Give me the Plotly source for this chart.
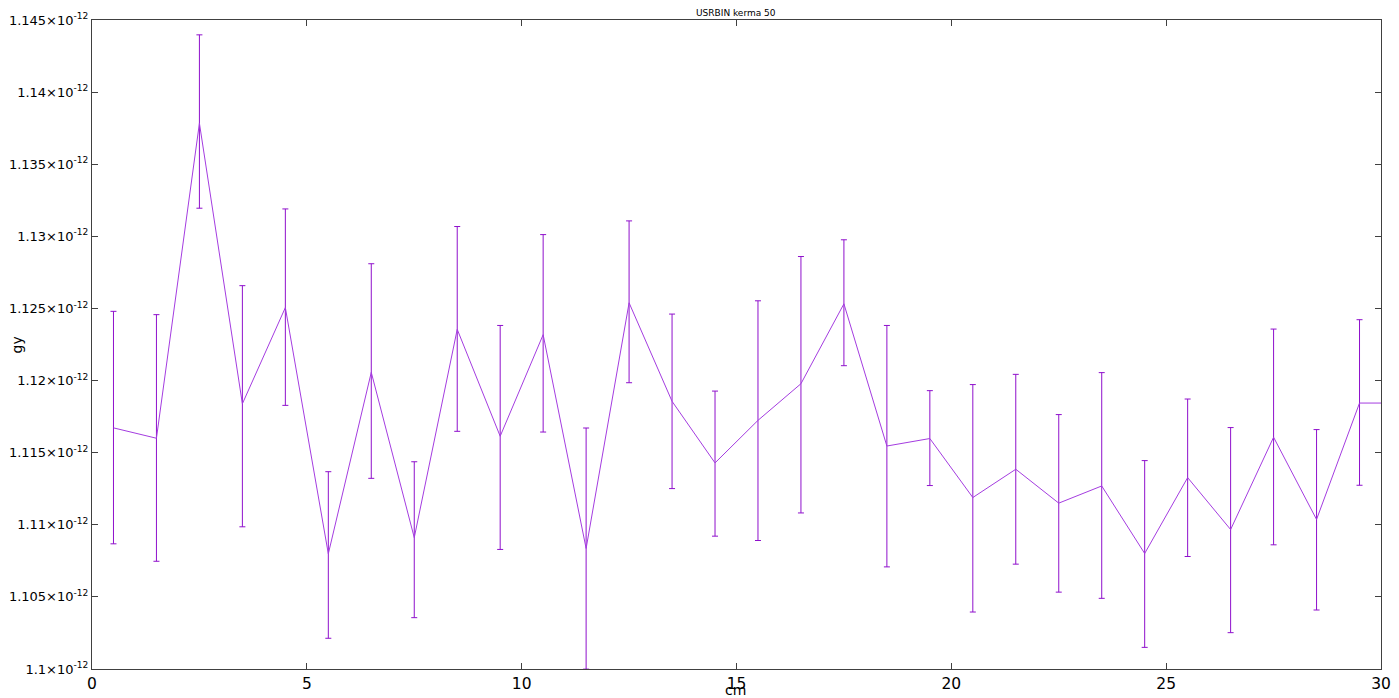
import plotly.graph_objects as go

# depth bin centres (cm)
x_cm = [0.5, 1.5, 2.5, 3.5, 4.5, 5.5, 6.5, 7.5, 8.5, 9.5,
        10.5, 11.5, 12.5, 13.5, 14.5, 15.5, 16.5, 17.5, 18.5, 19.5,
        20.5, 21.5, 22.5, 23.5, 24.5, 25.5, 26.5, 27.5, 28.5, 29.5, 30.5]

# kerma (units of 1e-12 Gy)
kerma = [1.11672, 1.11600, 1.13784, 1.11839, 1.12506, 1.10799, 1.12057, 1.10911, 1.12355, 1.11614,
         1.12318, 1.10836, 1.12539, 1.11856, 1.11429, 1.11724, 1.11978, 1.12532, 1.11546, 1.11598,
         1.11189, 1.11385, 1.11150, 1.11269, 1.10801, 1.11327, 1.10967, 1.11607, 1.11037, 1.11844, 1.11844]

kerma_high = [1.12480, 1.12457, 1.14397, 1.12658, 1.13190, 1.11368, 1.12810, 1.11437, 1.13068, 1.12382,
              1.13012, 1.11671, 1.13107, 1.12461, 1.11927, 1.12553, 1.12860, 1.12976, 1.12382, 1.11930,
              1.11972, 1.12043, 1.11764, 1.12055, 1.11445, 1.11872, 1.11674, 1.12357, 1.11660, 1.12422, 1.12422]

kerma_low = [1.10868, 1.10747, 1.13195, 1.10986, 1.11828, 1.10213, 1.11322, 1.10356, 1.11648, 1.10829,
             1.11643, 1.09999, 1.11985, 1.11251, 1.10921, 1.10891, 1.11082, 1.12103, 1.10708, 1.11272,
             1.10395, 1.10727, 1.10533, 1.10490, 1.10150, 1.10780, 1.10252, 1.10861, 1.10409, 1.11274, 1.11274]

SCALE = 1e-12

y_tick_vals = [1.100, 1.105, 1.110, 1.115, 1.120, 1.125, 1.130, 1.135, 1.140, 1.145]
y_tick_text = ["1.1", "1.105", "1.11", "1.115", "1.12", "1.125", "1.13", "1.135", "1.14", "1.145"]
x_tick_vals = [0, 5, 10, 15, 20, 25, 30]

y = [v * SCALE for v in kerma]
err_plus = [(h - v) * SCALE for h, v in zip(kerma_high, kerma)]
err_minus = [(v - l) * SCALE for l, v in zip(kerma_low, kerma)]

LINE_PURPLE = "#a43ce0"
BAR_PURPLE = "#8f10cc"
FONT = "DejaVu Sans"

fig = go.Figure()
fig.add_trace(go.Scatter(
    x=x_cm, y=y, mode="lines",
    line=dict(color=LINE_PURPLE, width=1),
    error_y=dict(type="data", symmetric=False, array=err_plus, arrayminus=err_minus,
                 color=BAR_PURPLE, thickness=1, width=3),
    showlegend=False,
))

axis_common = dict(
    showgrid=False, zeroline=False,
    showline=True, linecolor="#404040", linewidth=1, mirror="allticks",
    ticks="inside", ticklen=6, tickcolor="#404040", tickwidth=1,
)

fig.update_layout(
    width=1391, height=690,
    margin=dict(l=84, r=18, t=12, b=29, autoexpand=False),
    paper_bgcolor="white", plot_bgcolor="white",
    font=dict(family=FONT, color="#000000"),
    xaxis=dict(range=[0, 30], tickvals=x_tick_vals, tickfont=dict(size=15.5, family=FONT),
               **axis_common),
    yaxis=dict(range=[1.1e-12, 1.145e-12],
               tickvals=[v * SCALE for v in y_tick_vals],
               ticktext=[t + "×10<sup>-12</sup>" for t in y_tick_text],
               tickfont=dict(size=13, family=FONT), ticklabelstandoff=0,
               **axis_common),
    annotations=[
        dict(text="USRBIN kerma 50", xref="paper", yref="paper", x=0.4995, y=1.0108,
             xanchor="center", yanchor="middle", showarrow=False, font=dict(size=9, family=FONT)),
        dict(text="gy", xref="paper", yref="paper", x=-0.0582, y=0.5,
             xanchor="center", yanchor="middle", textangle=-90, showarrow=False,
             font=dict(size=14, family=FONT)),
        dict(text="cm", xref="paper", yref="paper", x=0.4995, y=-0.0324,
             xanchor="center", yanchor="middle", showarrow=False, font=dict(size=14, family=FONT)),
    ],
)

fig.write_html("out.html")
